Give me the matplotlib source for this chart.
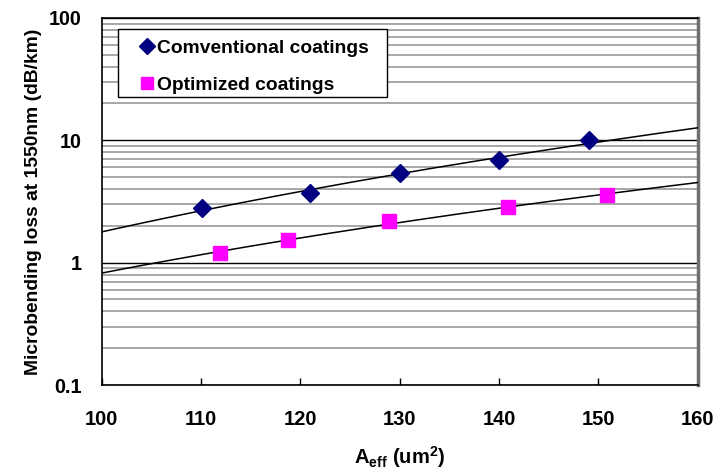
import numpy as np
import matplotlib
matplotlib.use('Agg')
import matplotlib.pyplot as plt
from matplotlib.patches import Rectangle
from matplotlib.ticker import LogLocator, FixedLocator, NullFormatter

plt.rcParams['font.family'] = ['Liberation Sans', 'DejaVu Sans']
plt.rcParams['font.weight'] = 'bold'
plt.rcParams['mathtext.fontset'] = 'custom'
plt.rcParams['mathtext.rm'] = 'Liberation Sans:bold'
plt.rcParams['mathtext.bf'] = 'Liberation Sans:bold'
plt.rcParams['mathtext.it'] = 'Liberation Sans:bold'

# data
conv_aeff = [110.1, 121.0, 130.0, 140.0, 149.1]
conv_loss = [2.82, 3.68, 5.37, 6.9, 10.0]
opt_aeff = [111.9, 118.8, 128.9, 140.9, 150.9]
opt_loss = [1.21, 1.52, 2.18, 2.86, 3.56]
x_ticks = [100, 110, 120, 130, 140, 150, 160]
y_ticks = [0.1, 1, 10, 100]
y_tick_labels = ['0.1', '1', '10', '100']

fig = plt.figure(figsize=(7.17, 4.72), dpi=100)
ax = fig.add_axes([0.1418, 0.1843, 0.8313, 0.7776])

# power-law trendlines (as Excel does)
xx = np.linspace(100, 160, 200)
for xs, ys in [(conv_aeff, conv_loss), (opt_aeff, opt_loss)]:
    b, a = np.polyfit(np.log(xs), np.log(ys), 1)
    ax.plot(xx, np.exp(a) * xx ** b, color='black', lw=1.1, zorder=3)

ax.plot(conv_aeff, conv_loss, linestyle='none', marker='D', ms=9.5,
        color='#000080', label='Comventional coatings', zorder=4)
ax.plot(opt_aeff, opt_loss, linestyle='none', marker='s', ms=9.5,
        color='#FF00FF', label='Optimized coatings', zorder=4)

ax.set_yscale('log')
ax.set_xlim(100, 160)
ax.set_ylim(0.1, 100)

ax.set_xticks(x_ticks)
ax.set_xticklabels([str(t) for t in x_ticks])
ax.yaxis.set_major_locator(FixedLocator(y_ticks))
ax.set_yticklabels(y_tick_labels)
ax.yaxis.set_minor_locator(LogLocator(base=10, subs=np.arange(2, 10)))
ax.yaxis.set_minor_formatter(NullFormatter())

ax.grid(True, which='minor', axis='y', color='#a0a0a0', lw=1.3)
ax.grid(True, which='major', axis='y', color='black', lw=1.0)
ax.set_axisbelow(True)

ax.tick_params(axis='x', direction='in', length=5, width=1, labelsize=14.5, pad=18)
ax.tick_params(axis='y', which='both', length=0, labelsize=14.2, pad=14.5)

for side in ['top', 'left', 'bottom']:
    ax.spines[side].set_color('black')
    ax.spines[side].set_linewidth(1.2)
ax.spines['right'].set_color('#707070')
ax.spines['right'].set_linewidth(2.5)

ax.set_xlabel(r'A$_{\mathbf{eff}}$ (um$^{\mathbf{2}}$)', fontsize=14.5, fontweight='bold', labelpad=11)
ax.set_ylabel('Microbending loss at 1550nm (dB/km)', fontsize=13.9, fontweight='bold', labelpad=5)

# legend frame drawn separately so the markers can sit well inside it
frame = Rectangle((0.0279, 0.7856), 0.4503, 0.1837, transform=ax.transAxes,
                  facecolor='white', edgecolor='black', lw=1.0, zorder=5)
ax.add_patch(frame)
leg = ax.legend(loc='upper left', bbox_to_anchor=(0.0643, 0.942), borderaxespad=0,
                fontsize=13.9, frameon=False, handletextpad=0.2, markerscale=0.85,
                handlelength=0.7, borderpad=0, labelspacing=1.0)
leg.set_zorder(6)

fig.savefig('out.png', dpi=100)
